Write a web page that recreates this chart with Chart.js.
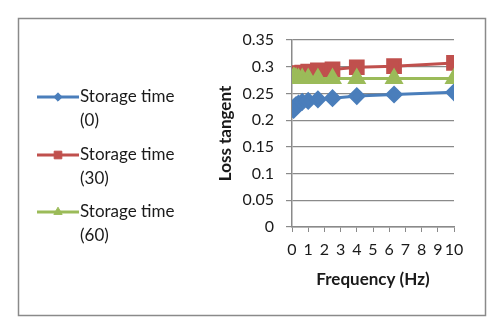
<!DOCTYPE html>
<html>
<head>
<meta charset="utf-8">
<script src="https://cdn.jsdelivr.net/npm/chart.js@4/dist/chart.umd.min.js"></script>
<style>
  body { margin: 0; background: #fff; }
  #wrap { width: 500px; height: 326px; }
</style>
</head>
<body>
<div id="wrap"><canvas id="lossChart" width="500" height="326"></canvas></div>
<script>
// frequency sweep (Hz) and loss tangent per storage time
const frequency = [0.1, 0.16, 0.25, 0.4, 0.63, 1, 1.6, 2.5, 4, 6.3, 10];
const storage0 = [0.219, 0.225, 0.228, 0.231, 0.234, 0.236, 0.239, 0.241, 0.245, 0.248, 0.252];
const storage30 = [0.283, 0.285, 0.287, 0.288, 0.289, 0.291, 0.293, 0.295, 0.299, 0.301, 0.307];
const storage60 = [0.280, 0.279, 0.279, 0.278, 0.278, 0.278, 0.278, 0.278, 0.278, 0.278, 0.278];
const seriesNames = [['Storage time', '(0)'], ['Storage time', '(30)'], ['Storage time', '(60)']];
const xTicks = [0, 10];
const yTicks = [0, 0.35];

function pts(ys) {
    return frequency.map(function (f, i) { return {x: f, y: ys[i]}; });
}

const FONT = 'Lato, "Open Sans", sans-serif';
const GRAY = '#8a8a8a';

// legend on the left, two lines per entry, plus the outer frame
const sideLegend = {
    id: 'sideLegend',
    afterDraw: function (chart) {
        let ctx = chart.ctx;
        ctx.save();
        ctx.strokeStyle = GRAY;
        ctx.lineWidth = 1.5;
        ctx.strokeRect(18.5, 18.5, 467, 297);
        let tops = [97, 155, 212];
        chart.data.datasets.forEach(function (ds, i) {
            let y = tops[i];
            ctx.strokeStyle = ds.borderColor;
            ctx.lineWidth = 3;
            ctx.beginPath();
            ctx.moveTo(37, y);
            ctx.lineTo(79, y);
            ctx.stroke();
            ctx.fillStyle = ds.backgroundColor;
            ctx.strokeStyle = ds.backgroundColor;
            ctx.lineWidth = 1;
            Chart.helpers.drawPoint(ctx, {
                pointStyle: ds.pointStyle,
                radius: ds.pointRadius * 0.6,
                rotation: 0,
                borderWidth: 1
            }, 58, y);
            ctx.fillStyle = '#1a1a1a';
            ctx.font = '17px ' + FONT;
            ctx.textBaseline = 'middle';
            ctx.textAlign = 'left';
            ctx.fillText(seriesNames[i][0], 80, y);
            ctx.fillText(seriesNames[i][1], 80, y + 24);
        });
        ctx.restore();
    }
};

let ctx = document.getElementById('lossChart').getContext('2d');
let myChart = new Chart(ctx, {
    type: 'line',
    data: {
        datasets: [{
            label: 'Storage time (0)',
            data: pts(storage0),
            borderColor: '#4a7ebb',
            backgroundColor: '#4a7ebb',
            borderWidth: 3,
            pointStyle: 'rectRot',
            pointRadius: 7,
            order: 2
        }, {
            label: 'Storage time (30)',
            data: pts(storage30),
            borderColor: '#c0504d',
            backgroundColor: '#c0504d',
            borderWidth: 3,
            pointStyle: 'rect',
            pointRadius: 9,
            order: 1
        }, {
            label: 'Storage time (60)',
            data: pts(storage60),
            borderColor: '#9bbb59',
            backgroundColor: '#9bbb59',
            borderWidth: 3,
            pointStyle: 'triangle',
            pointRadius: 8,
            order: 0
        }]
    },
    options: {
        responsive: false,
        animation: false,
        layout: { padding: { left: 211, right: 46, top: 40, bottom: 32 } },
        plugins: { legend: { display: false }, tooltip: { enabled: false } },
        scales: {
            x: {
                type: 'linear',
                min: xTicks[0],
                max: xTicks[1],
                afterFit: function (scale) { scale.height = 67; },
                border: { display: true, color: GRAY, width: 1.5 },
                grid: { drawOnChartArea: false, drawTicks: true, tickLength: 5, color: GRAY },
                ticks: {
                    stepSize: 1, autoSkip: false, maxRotation: 0, padding: 8,
                    color: '#1a1a1a', font: { family: FONT, size: 16 }
                },
                title: {
                    display: true, text: 'Frequency (Hz)', color: '#1a1a1a',
                    padding: { top: 4, bottom: 4 },
                    font: { family: FONT, size: 17, weight: 'bold' }
                }
            },
            y: {
                min: yTicks[0],
                max: yTicks[1],
                afterFit: function (scale) { scale.width = 81; },
                border: { display: true, color: GRAY, width: 1.5 },
                grid: { color: GRAY, lineWidth: 1.2, tickLength: 6 },
                ticks: {
                    stepSize: 0.05, padding: 12,
                    color: '#1a1a1a', font: { family: FONT, size: 16 },
                    callback: function (v) { return parseFloat(v.toFixed(2)).toString(); }
                },
                title: {
                    display: true, text: 'Loss tangent', color: '#1a1a1a',
                    padding: { top: 4, bottom: 4 },
                    font: { family: FONT, size: 17, weight: 'bold' }
                }
            }
        }
    },
    plugins: [sideLegend]
});
</script>
</body>
</html>
